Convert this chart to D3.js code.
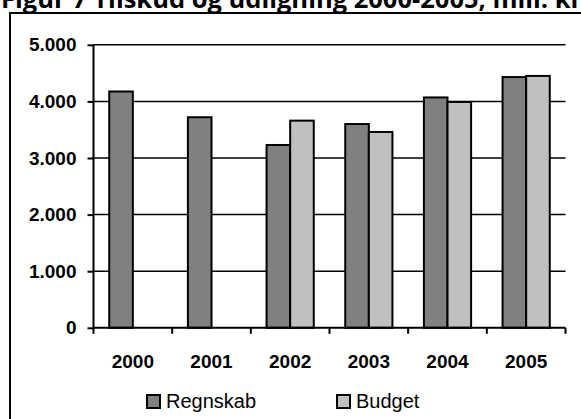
<!DOCTYPE html>
<html>
<head>
<meta charset="utf-8">
<script src="https://cdn.jsdelivr.net/npm/d3@7"></script>
<style>
  body { margin: 0; background: #fff; }
  svg { display: block; }
</style>
</head>
<body>
<svg id="chart" width="581" height="419"></svg>
<script>
/*********************** DATA ********************************/
let years = ['2000', '2001', '2002', '2003', '2004', '2005'];
let regnskab = [4175, 3720, 3230, 3600, 4070, 4430];
let budget = [null, null, 3660, 3460, 3990, 4450];
let seriesNames = ['Regnskab', 'Budget'];
let seriesColors = ['#808080', '#c0c0c0'];
let yTicks = [0, 1000, 2000, 3000, 4000, 5000];
let titleText = 'Figur 7 Tilskud og udligning 2000-2005, mill. kr.';

/*********************** SETUP ********************************/
let svg = d3.select('#chart');
let margin = { left: 93.5, right: 565.5, top: 44.8, bottom: 327.8 };

// title, clipped at the top of the picture (as in the source)
svg.append('text')
    .attr('x', 1)
    .attr('y', 8)
    .attr('font-family', '"Open Sans", sans-serif')
    .attr('font-weight', 'bold')
    .attr('font-size', '25.5px')
    .text(titleText);

// outer frame
svg.append('rect')
    .attr('x', 10)
    .attr('y', 13)
    .attr('width', 600)
    .attr('height', 440)
    .attr('fill', 'none')
    .attr('stroke', '#000')
    .attr('stroke-width', 2);

let x = d3.scaleBand()
    .domain(years)
    .range([margin.left, margin.right]);

let xSub = d3.scaleBand()
    .domain(seriesNames)
    .range([x.bandwidth() * 0.2, x.bandwidth() * 0.8]);

let y = d3.scaleLinear()
    .domain([0, 5000])
    .range([margin.bottom, margin.top]);

let fmt = d => d3.format(',')(d).replace(/,/g, '.');

// gridlines
svg.append('g')
    .selectAll('line')
    .data(yTicks.slice(1))
    .join('line')
    .attr('x1', margin.left)
    .attr('x2', margin.right)
    .attr('y1', d => y(d))
    .attr('y2', d => y(d))
    .attr('stroke', '#000')
    .attr('stroke-width', 1.5);

/*********************** BARS ********************************/
let rows = years.map((yr, i) => ({ year: yr, values: [regnskab[i], budget[i]] }));

svg.append('g')
    .selectAll('g')
    .data(rows)
    .join('g')
    .attr('transform', d => `translate(${x(d.year)},0)`)
    .selectAll('rect')
    .data(d => d.values.map((v, j) => ({ key: seriesNames[j], value: v, color: seriesColors[j] })).filter(e => e.value != null))
    .join('rect')
    .attr('x', d => xSub(d.key))
    .attr('y', d => y(d.value))
    .attr('width', xSub.bandwidth())
    .attr('height', d => y(0) - y(d.value))
    .attr('fill', d => d.color)
    .attr('stroke', '#000')
    .attr('stroke-width', 2);

/*********************** AXES ********************************/
let yAxis = svg.append('g')
    .attr('transform', `translate(${margin.left},0)`)
    .call(d3.axisLeft(y).tickValues(yTicks).tickFormat(fmt).tickSize(6).tickPadding(11));

let xAxis = svg.append('g')
    .attr('transform', `translate(0,${margin.bottom})`)
    .call(d3.axisBottom(x).tickSize(0).tickPadding(27));

// category boundary ticks
let bounds = years.map(yr => x(yr)).concat([margin.right]);
xAxis.selectAll('.bound')
    .data(bounds)
    .join('line')
    .attr('class', 'bound')
    .attr('x1', d => d)
    .attr('x2', d => d)
    .attr('y1', 0)
    .attr('y2', 6)
    .attr('stroke', '#000')
    .attr('stroke-width', 2);

[yAxis, xAxis].forEach(ax => {
    ax.select('.domain').attr('stroke', '#000').attr('stroke-width', 2);
    ax.selectAll('.tick line').attr('stroke', '#000').attr('stroke-width', 2);
    ax.selectAll('text')
        .attr('fill', '#000')
        .attr('font-family', 'Arial, "Liberation Sans", sans-serif')
        .attr('font-weight', 'bold')
        .attr('font-size', '19px');
});
yAxis.select('.domain').attr('d', `M0,${margin.top}V${margin.bottom}`);
xAxis.select('.domain').attr('d', `M${margin.left},0H${margin.right}`);

/*********************** LEGEND ********************************/
let legendX = [147, 337];
let legend = svg.append('g')
    .selectAll('g')
    .data(seriesNames)
    .join('g')
    .attr('transform', (d, i) => `translate(${legendX[i]},395)`);

legend.append('rect')
    .attr('width', 13)
    .attr('height', 13)
    .attr('fill', (d, i) => seriesColors[i])
    .attr('stroke', '#000')
    .attr('stroke-width', 2);

legend.append('text')
    .attr('x', 19)
    .attr('y', 13)
    .attr('font-family', 'Arial, "Liberation Sans", sans-serif')
    .attr('font-size', '20px')
    .text(d => d);
</script>
</body>
</html>
